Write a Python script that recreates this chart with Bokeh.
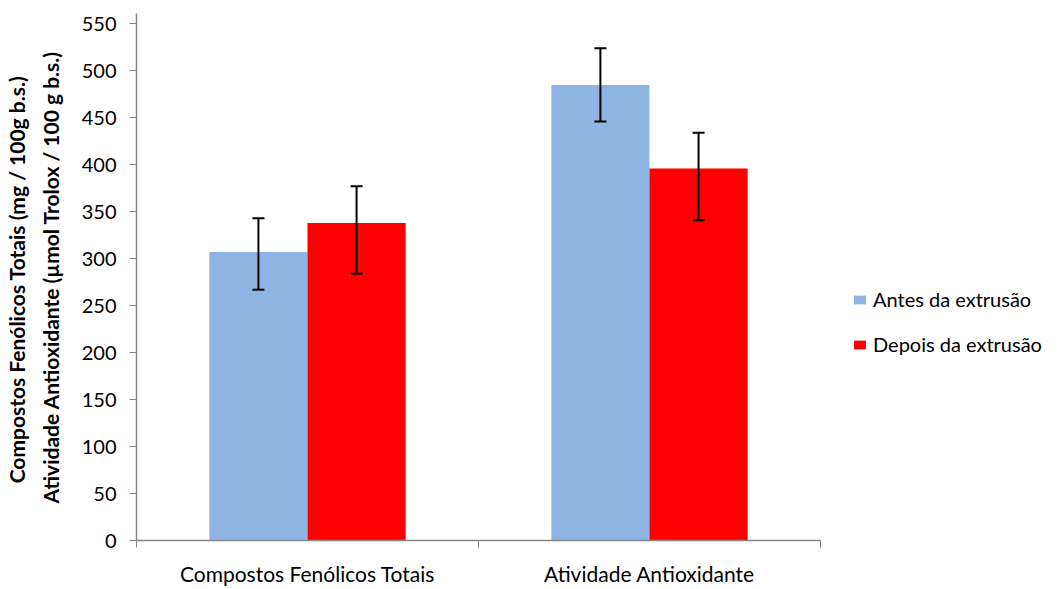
from bokeh.plotting import figure
from bokeh.models import (ColumnDataSource, Range1d, FixedTicker, Whisker, TeeHead,
                          Legend, LegendItem)
from bokeh.transform import dodge
from bokeh.embed import file_html
from bokeh.resources import INLINE

categories = ["Compostos Fenólicos Totais", "Atividade Antioxidante"]
series_names = ["Antes da extrusão", "Depois da extrusão"]
antes = [307, 485]
antes_lower = [267, 446]
antes_upper = [343, 524]
depois = [338, 396]
depois_lower = [284, 341]
depois_upper = [377, 434]
y_ticks = [0, 50, 100, 150, 200, 250, 300, 350, 400, 450, 500, 550]

colors = ["#8EB4E3", "#FF0000"]
FONT = "Lato"
BW = 0.287
OFF = BW / 2
NC = len(categories)

xpos = [i + 0.5 for i in range(NC)]
src = ColumnDataSource(dict(
    x=xpos, cat=categories,
    antes=antes, antes_lower=antes_lower, antes_upper=antes_upper,
    depois=depois, depois_lower=depois_lower, depois_upper=depois_upper,
    xa=[v - OFF for v in xpos], xd=[v + OFF for v in xpos],
))

# frame extends to the right so the legend can sit inside it; axis line is bounded
p = figure(width=1042, height=589, output_backend="svg", toolbar_location=None,
           x_range=Range1d(0, NC * 914 / 690), y_range=Range1d(0, 561),
           min_border_left=128, min_border_right=0, min_border_top=13,
           min_border_bottom=49)
p.outline_line_color = None
p.xgrid.visible = False
p.ygrid.visible = False
p.background_fill_color = "white"

rb = p.vbar(x=dodge("x", -OFF, range=p.x_range), top="antes", width=BW, source=src,
            fill_color=colors[0], line_color=None)
rr = p.vbar(x=dodge("x", OFF, range=p.x_range), top="depois", width=BW, source=src,
            fill_color=colors[1], line_color=None)

for xf, lo, up in (("xa", "antes_lower", "antes_upper"), ("xd", "depois_lower", "depois_upper")):
    w = Whisker(base=xf, lower=lo, upper=up, source=src, dimension="height",
                line_color="black", line_width=2, level="overlay",
                upper_head=TeeHead(size=12, line_color="black", line_width=2),
                lower_head=TeeHead(size=12, line_color="black", line_width=2))
    p.add_layout(w)

# y axis
ya = p.yaxis[0]
ya.ticker = FixedTicker(ticks=y_ticks)
ya.axis_line_color = "#868686"
ya.axis_line_width = 1.5
ya.major_tick_line_color = "#868686"
ya.major_tick_out = 7
ya.major_tick_in = 0
ya.minor_tick_out = 0
ya.minor_tick_in = 0
ya.major_label_text_font = FONT
ya.major_label_text_font_size = "20px"
ya.major_label_text_color = "black"
ya.major_label_standoff = 13
ya.axis_label = "Compostos Fenólicos Totais  (mg / 100g b.s.)\nAtividade Antioxidante (µmol Trolox / 100 g b.s.)"
ya.axis_label_text_font = FONT
ya.axis_label_text_font_style = "bold"
ya.axis_label_text_font_size = "21px"
ya.axis_label_text_color = "black"
ya.axis_label_text_line_height = 1.35
ya.axis_label_text_align = "center"
ya.axis_label_standoff = 16

# x axis: labels under groups, tick marks at category boundaries
xa = p.xaxis[0]
xa.bounds = (0, NC)
xa.ticker = FixedTicker(ticks=xpos, minor_ticks=list(range(NC + 1)))
xa.major_label_overrides = {x: c for x, c in zip(xpos, categories)}
xa.axis_line_color = "#868686"
xa.axis_line_width = 1.5
xa.major_tick_out = 0
xa.major_tick_in = 0
xa.minor_tick_line_color = "#868686"
xa.minor_tick_out = 7
xa.minor_tick_in = 0
xa.major_label_text_font = FONT
xa.major_label_text_font_size = "21px"
xa.major_label_text_color = "black"
xa.major_label_standoff = 13

legend = Legend(items=[LegendItem(label=series_names[0], renderers=[rb]),
                       LegendItem(label=series_names[1], renderers=[rr])],
                location=(716, 184), border_line_alpha=0, background_fill_alpha=0,
                padding=0, margin=0, spacing=21, glyph_width=15, glyph_height=11,
                label_height=22, label_standoff=6, label_text_font=FONT,
                label_text_font_size="20px", label_text_color="black")
p.add_layout(legend, "center")

open("out.html", "w").write(file_html(p, INLINE))
